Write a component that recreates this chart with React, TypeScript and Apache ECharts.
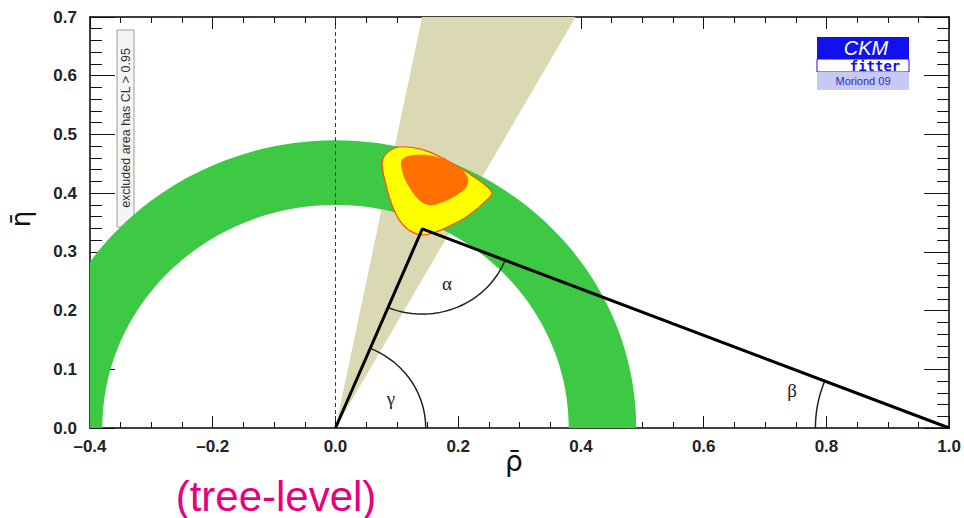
import React, { useEffect, useRef } from "react";
import * as echarts from "echarts";

// ---- data ----
const rhoRange = [-0.4, 1.0];
const etaRange = [0, 0.7];
const ringRadii = [0.38, 0.49]; // |Vub| band radii
const gammaAlphaBandDeg = [60.8, 78.6]; // γ(α) wedge edge angles from origin
const cl95Rho = [0.076, 0.088, 0.109, 0.148, 0.19, 0.234, 0.255, 0.25, 0.218, 0.19, 0.164, 0.141, 0.12, 0.104, 0.091, 0.083];
const cl95Eta = [0.453, 0.472, 0.479, 0.472, 0.451, 0.422, 0.402, 0.392, 0.363, 0.346, 0.334, 0.329, 0.337, 0.354, 0.383, 0.411];
const cl68Rho = [0.109, 0.137, 0.169, 0.202, 0.215, 0.213, 0.197, 0.174, 0.153, 0.137, 0.124, 0.112];
const cl68Eta = [0.457, 0.465, 0.46, 0.443, 0.426, 0.411, 0.397, 0.385, 0.38, 0.388, 0.405, 0.428];
const triRho = [0, 0.1415, 1];
const triEta = [0, 0.339, 0];
const arcVertex = [0, 1, 2]; // indices into triangle for γ, α, β
const arcRadii = [0.147, 0.145, 0.218];

const toPts = (xs: number[], ys: number[]) => xs.map((x, i) => [x, ys[i]]);

export default function App() {
  const ref = useRef<HTMLDivElement>(null);
  useEffect(() => {
    if (!ref.current) return;
    const chart = echarts.init(ref.current, undefined, { renderer: "svg" });

    const ringPts: number[][] = [];
    for (let a = 0; a <= 180; a += 2) {
      const t = (a * Math.PI) / 180;
      ringPts.push([ringRadii[1] * Math.cos(t), ringRadii[1] * Math.sin(t)]);
    }
    for (let a = 180; a >= 0; a -= 2) {
      const t = (a * Math.PI) / 180;
      ringPts.push([ringRadii[0] * Math.cos(t), ringRadii[0] * Math.sin(t)]);
    }
    const yTop = 0.75;
    const wedgePts = [
      [0, 0],
      [yTop / Math.tan((gammaAlphaBandDeg[0] * Math.PI) / 180), yTop],
      [yTop / Math.tan((gammaAlphaBandDeg[1] * Math.PI) / 180), yTop],
    ];
    const tri = toPts(triRho, triEta);
    const arcs = arcVertex.map((vi, k) => {
      const v = tri[vi];
      const a = tri[(vi + 1) % 3];
      const b = tri[(vi + 2) % 3];
      let ta = Math.atan2(a[1] - v[1], a[0] - v[0]);
      let tb = Math.atan2(b[1] - v[1], b[0] - v[0]);
      let d = tb - ta;
      while (d < 0) d += 2 * Math.PI;
      if (d > Math.PI) {
        const tmp = ta;
        ta = tb;
        tb = tmp;
        d = 2 * Math.PI - d;
      }
      const pts: number[][] = [];
      const n = 40;
      for (let i = 0; i <= n; i++) {
        const t = ta + (d * i) / n;
        pts.push([v[0] + arcRadii[k] * Math.cos(t), v[1] + arcRadii[k] * Math.sin(t)]);
      }
      return pts;
    });

    const polySeries = (pts: number[][], style: any, z: number, smooth = 0) => ({
      type: "custom",
      coordinateSystem: "cartesian2d",
      clip: true,
      silent: true,
      z,
      data: [0],
      renderItem: (_p: any, api: any) => ({
        type: "polygon",
        shape: { points: pts.map((p) => api.coord(p)), smooth },
        style,
      }),
    });
    const lineSeries = (pts: number[][], style: any, z: number) => ({
      type: "custom",
      coordinateSystem: "cartesian2d",
      clip: true,
      silent: true,
      z,
      data: [0],
      renderItem: (_p: any, api: any) => ({
        type: "polyline",
        shape: { points: pts.map((p) => api.coord(p)) },
        style,
      }),
    });

    const tickFmt = (v: number) => (v < 0 ? "\u2013" : "") + Math.abs(v).toFixed(1);
    const labelStyle = { color: "#222", fontSize: 17, fontWeight: "bold" as const, fontFamily: "Liberation Sans" };
    const axLine = { show: true, onZero: false, lineStyle: { color: "#000", width: 1.5 } };

    const xBase = {
      type: "value",
      min: rhoRange[0],
      max: rhoRange[1],
      interval: 0.2,
      splitLine: { show: false },
      axisLine: axLine,
      minorTick: { show: true, splitNumber: 4, length: 6, lineStyle: { color: "#111", width: 1 } },
      axisTick: { show: true, inside: true, length: 12, lineStyle: { color: "#111", width: 1 } },
    };
    const yBase = {
      type: "value",
      min: etaRange[0],
      max: etaRange[1],
      interval: 0.1,
      splitLine: { show: false },
      axisLine: axLine,
      minorTick: { show: true, splitNumber: 5, length: 12, lineStyle: { color: "#111", width: 1 } },
      axisTick: { show: true, inside: true, length: 25, lineStyle: { color: "#111", width: 1 } },
    };

    chart.setOption({
      animation: false,
      grid: { left: 90, right: 13, top: 17, bottom: 90, containLabel: false },
      xAxis: [
        { ...xBase, position: "bottom", axisLabel: { ...labelStyle, margin: 10, formatter: tickFmt } },
        { ...xBase, position: "top", axisLabel: { show: false } },
      ],
      yAxis: [
        { ...yBase, position: "left", axisLabel: { ...labelStyle, margin: 13, formatter: (v: number) => v.toFixed(1) } },
        { ...yBase, position: "right", axisLabel: { show: false } },
      ],
      series: [
        polySeries(wedgePts, { fill: "#dbd9b3" }, 1),
        polySeries(ringPts, { fill: "#3dc943" }, 2),
        {
          type: "line",
          z: 3,
          silent: true,
          symbol: "none",
          data: [[0, 0], [0, 0.7]],
          lineStyle: { color: "#333", width: 1, type: [4, 3] },
        },
        polySeries(toPts(cl95Rho, cl95Eta), { fill: "#ffff00", stroke: "#ff4a10", lineWidth: 1.2 }, 4, 0.35),
        polySeries(toPts(cl68Rho, cl68Eta), { fill: "#ff7000", stroke: "#ff5000", lineWidth: 0.5 }, 5, 0.35),
        ...arcs.map((pts) => lineSeries(pts, { stroke: "#222", lineWidth: 1.5, fill: "none" }, 6)),
        {
          type: "line",
          z: 7,
          silent: true,
          symbol: "none",
          data: tri,
          lineStyle: { color: "#000", width: 3 },
        },
      ],
      graphic: [
        { type: "text", x: 21, y: 219, rotation: Math.PI / 2, style: { text: "η\u0304", fontSize: 26, fontFamily: "DejaVu Sans", fill: "#111", align: "center", verticalAlign: "middle" } },
        { type: "text", x: 514, y: 461, style: { text: "ρ\u0304", fontSize: 28, fontFamily: "DejaVu Sans", fill: "#111", align: "center", verticalAlign: "middle" } },
        { type: "text", x: 276, y: 496, style: { text: "(tree-level)", fontSize: 42, fontFamily: "Liberation Sans", fill: "#e6007e", align: "center", verticalAlign: "middle" } },
        { type: "text", x: 488, y: 76, style: { text: "γ(α)", fontSize: 24, fontFamily: "Liberation Serif", fill: "#222", align: "center", verticalAlign: "middle" } },
        { type: "text", x: 447, y: 283, style: { text: "α", fontSize: 19, fontFamily: "Liberation Serif", fill: "#222", align: "center", verticalAlign: "middle" } },
        { type: "text", x: 391, y: 398, style: { text: "γ", fontSize: 19, fontFamily: "Liberation Serif", fill: "#222", align: "center", verticalAlign: "middle" } },
        { type: "text", x: 792, y: 390, style: { text: "β", fontSize: 19, fontFamily: "Liberation Serif", fill: "#222", align: "center", verticalAlign: "middle" } },
        {
          type: "text",
          x: 596,
          y: 358,
          style: {
            text: "{b||}{v|V}{s|ub}{b||}",
            align: "center",
            verticalAlign: "middle",
            rich: {
              b: { fontSize: 30, fontFamily: "Liberation Sans", fill: "#111" },
              v: { fontSize: 30, fontFamily: "Liberation Sans", fill: "#111" },
              s: { fontSize: 19, fontFamily: "Liberation Sans", fill: "#111", verticalAlign: "bottom", padding: [12, 0, 0, 0] },
            },
          },
        },
        { type: "rect", shape: { x: 117, y: 30, width: 17, height: 197 }, style: { fill: "#f5f5f5", stroke: "#9a9a9a", lineWidth: 1 } },
        { type: "text", x: 125.5, y: 128, rotation: Math.PI / 2, style: { text: "excluded area has CL > 0.95", fontSize: 12.5, fontFamily: "Liberation Sans", fill: "#333", align: "center", verticalAlign: "middle" } },
        { type: "rect", shape: { x: 817, y: 37, width: 92, height: 22 }, style: { fill: "#1010f0" } },
        { type: "text", x: 866, y: 47.5, style: { text: "CKM", fontSize: 20, fontStyle: "italic", fontFamily: "Liberation Sans", fill: "#fff", align: "center", verticalAlign: "middle" } },
        { type: "rect", shape: { x: 817, y: 59, width: 92, height: 13 }, style: { fill: "#fff", stroke: "#1010f0", lineWidth: 1 } },
        { type: "text", x: 875, y: 66, style: { text: "fitter", fontSize: 14, fontWeight: "bold", fontFamily: "DejaVu Sans Mono", fill: "#1010f0", align: "center", verticalAlign: "middle" } },
        { type: "rect", shape: { x: 817, y: 72, width: 92, height: 18 }, style: { fill: "#c8c8f4" } },
        { type: "text", x: 863, y: 81, style: { text: "Moriond 09", fontSize: 11, fontFamily: "Liberation Sans", fill: "#2a2ad0", align: "center", verticalAlign: "middle" } },
      ],
    });
    return () => chart.dispose();
  }, []);
  return <div ref={ref} style={{ position: "absolute", left: 0, top: 0, width: 964, height: 518 }} />;
}
